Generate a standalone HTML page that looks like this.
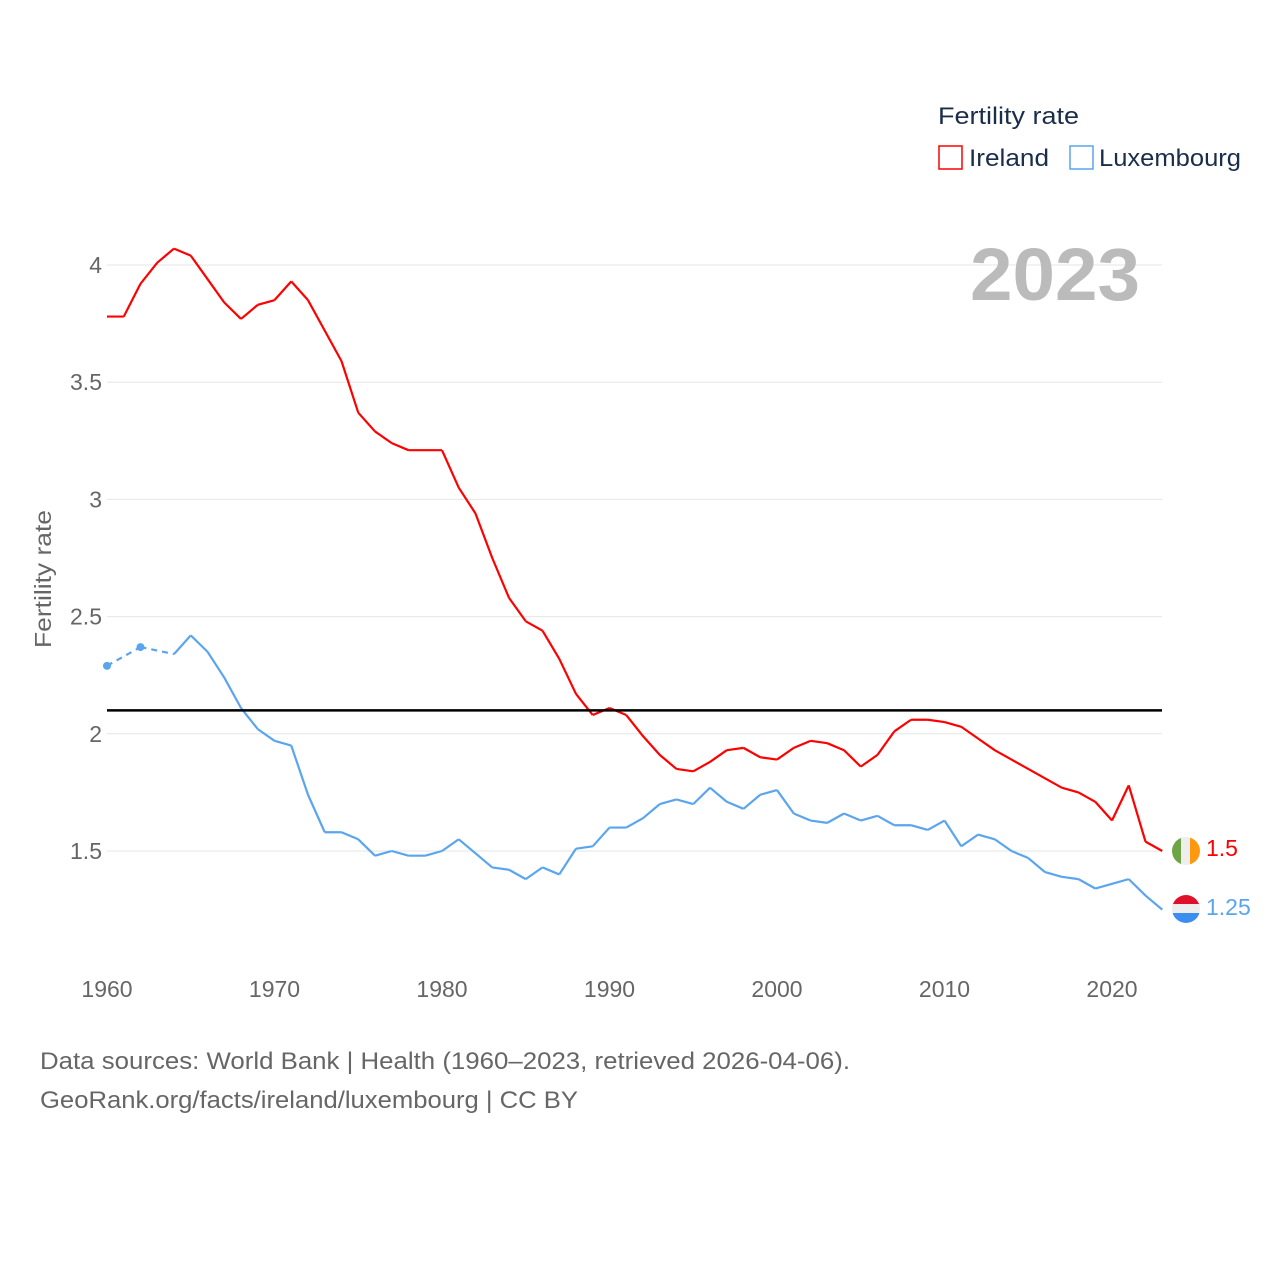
<!DOCTYPE html>
<html><head><meta charset="utf-8"><style>
body{margin:0;background:#fff;font-family:"Liberation Sans",sans-serif}
svg text{font-family:"Liberation Sans",sans-serif}
</style></head><body>
<svg width="1280" height="1280">
<g id="grid"></g>
<g id="xt"></g>
<text transform="translate(51,579) rotate(-90)" text-anchor="middle" font-size="23" fill="#666" textLength="138" lengthAdjust="spacingAndGlyphs">Fertility rate</text>
<text x="1140" y="300" text-anchor="end" font-size="74" font-weight="bold" fill="#bbb" textLength="170" lengthAdjust="spacingAndGlyphs">2023</text>
<text x="938" y="124" font-size="24" fill="#1a2e4a" textLength="141" lengthAdjust="spacingAndGlyphs">Fertility rate</text>
<g><rect x="939" y="146" width="23" height="23" fill="none" stroke="#f00" stroke-width="1.5"/><text x="969" y="166" font-size="24" fill="#1a2e4a" textLength="80" lengthAdjust="spacingAndGlyphs">Ireland</text></g>
<g><rect x="1070" y="146" width="23" height="23" fill="none" stroke="#5aa5ee" stroke-width="1.5"/><text x="1099" y="166" font-size="24" fill="#1a2e4a" textLength="142" lengthAdjust="spacingAndGlyphs">Luxembourg</text></g>
<g id="series"></g>
<line id="ref" stroke="#000" stroke-width="2.5"/>
<g><clipPath id="c1"><circle cx="1186" cy="851" r="14"/></clipPath><g clip-path="url(#c1)"><rect x="1172" y="837" width="10" height="28" fill="#6da544"/><rect x="1181" y="837" width="10" height="28" fill="#eee"/><rect x="1190" y="837" width="10" height="28" fill="#ff9811"/></g></g>
<g><clipPath id="c2"><circle cx="1186" cy="909" r="14"/></clipPath><g clip-path="url(#c2)"><rect x="1172" y="895" width="28" height="10" fill="#e0102a"/><rect x="1172" y="904" width="28" height="10" fill="#eee"/><rect x="1172" y="913" width="28" height="10" fill="#3a8ef0"/></g></g>
<text x="1206" y="856" font-size="23" fill="#f00">1.5</text>
<text x="1206" y="915" font-size="23" fill="#5aa5ee">1.25</text>
<text x="40" y="1069" font-size="24" fill="#666" textLength="810" lengthAdjust="spacingAndGlyphs">Data sources: World Bank | Health (1960–2023, retrieved 2026-04-06).</text>
<text x="40" y="1108" font-size="24" fill="#666" textLength="538" lengthAdjust="spacingAndGlyphs">GeoRank.org/facts/ireland/luxembourg | CC BY</text>
</svg>
<script>
const years=[];for(let y=1960;y<=2023;y++)years.push(y);
const ireland=[3.78,3.78,3.92,4.01,4.07,4.04,3.94,3.84,3.77,3.83,3.85,3.93,3.85,3.72,3.59,3.37,3.29,3.24,3.21,3.21,3.21,3.05,2.94,2.75,2.58,2.48,2.44,2.32,2.17,2.08,2.11,2.08,1.99,1.91,1.85,1.84,1.88,1.93,1.94,1.90,1.89,1.94,1.97,1.96,1.93,1.86,1.91,2.01,2.06,2.06,2.05,2.03,1.98,1.93,1.89,1.85,1.81,1.77,1.75,1.71,1.63,1.78,1.54,1.50];
const luxembourg=[2.29,null,2.37,null,2.34,2.42,2.35,2.24,2.11,2.02,1.97,1.95,1.74,1.58,1.58,1.55,1.48,1.50,1.48,1.48,1.50,1.55,1.49,1.43,1.42,1.38,1.43,1.40,1.51,1.52,1.60,1.60,1.64,1.70,1.72,1.70,1.77,1.71,1.68,1.74,1.76,1.66,1.63,1.62,1.66,1.63,1.65,1.61,1.61,1.59,1.63,1.52,1.57,1.55,1.50,1.47,1.41,1.39,1.38,1.34,1.36,1.38,1.31,1.25];
const yTicks=[1.5,2,2.5,3,3.5,4];
const xTicks=[1960,1970,1980,1990,2000,2010,2020];
const refValue=2.1;
const X=y=>107+(y-1960)*16.75, Y=v=>265+(4-v)*234.4;
const NS='http://www.w3.org/2000/svg';
function mk(t,p,a){const e=document.createElementNS(NS,t);for(const k in a)e.setAttribute(k,a[k]);p.appendChild(e);return e;}
const grid=document.getElementById('grid');
yTicks.forEach(v=>{
 const l=mk('line',grid,{x1:107,x2:1162,y1:Y(v),y2:Y(v),stroke:'#e6e6e6','stroke-width':1});
 
 
 const t=mk('text',grid,{x:102,y:Y(v)+8,'text-anchor':'end','font-size':23,fill:'#666'});t.textContent=v;
 
 
});
const xt=document.getElementById('xt');
xTicks.forEach(v=>{
 const t=mk('text',xt,{x:X(v),y:997,'text-anchor':'middle','font-size':23,fill:'#666'});t.textContent=v;
 
 
});
const r=document.getElementById('ref');
r.setAttribute('x1',107);r.setAttribute('x2',1162);r.setAttribute('y1',Y(refValue));r.setAttribute('y2',Y(refValue));
const sg=document.getElementById('series');
function draw(vals,color,name){
 const pts=[];vals.forEach((v,i)=>{if(v!=null)pts.push([X(years[i]),Y(v),i]);});
 let solid='',dashed='';
 for(let k=1;k<pts.length;k++){
  const a=pts[k-1],b=pts[k];const seg=`M${a[0]},${a[1]}L${b[0]},${b[1]}`;
  if(b[2]-a[2]>1)dashed+=seg;else solid+=seg;
 }
 const p=mk('path',sg,{d:solid,fill:'none',stroke:color,'stroke-width':2.2,'stroke-linejoin':'round'});
 
 
 if(dashed){const d=mk('path',sg,{d:dashed,fill:'none',stroke:color,'stroke-width':2.2,'stroke-dasharray':'6,5'});
 
 }
 pts.forEach((q,k)=>{
  const prevGap=k==0||q[2]-pts[k-1][2]>1, nextGap=k==pts.length-1||pts[k+1][2]-q[2]>1;
  if(prevGap&&nextGap&&k!=pts.length-1){const c=mk('circle',sg,{cx:q[0],cy:q[1],r:4,fill:color});
  
  }
 });
}
draw(ireland,'#f00','ireland');
draw(luxembourg,'#5aa5ee','luxembourg');
</script>
</body></html>
